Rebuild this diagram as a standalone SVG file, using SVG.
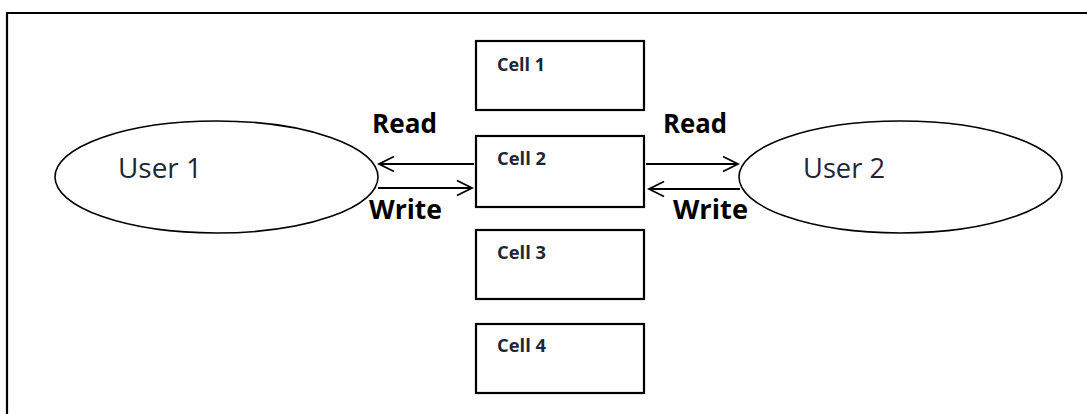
<svg xmlns="http://www.w3.org/2000/svg" width="1087" height="414" viewBox="0 0 1087 414">
<style>
.frame{fill:none;stroke:#000;stroke-width:2.2}
.cell{fill:#fff;stroke:#000;stroke-width:2.2}
.user{fill:#fff;stroke:#000;stroke-width:1.6}
.ct{font-family:"Open Sans","Liberation Sans",sans-serif;font-weight:bold;font-size:17px;fill:#1c2636}
.ut{font-family:"Open Sans","Liberation Sans",sans-serif;font-size:27px;fill:#1c2636}
.lbl{font-family:"Open Sans","Liberation Sans",sans-serif;font-weight:bold;font-size:26px;fill:#000}
.conn{stroke:#000;stroke-width:1.8;fill:none;marker-end:url(#arr)}
</style>
<defs>
<marker id="arr" markerUnits="userSpaceOnUse" markerWidth="20" markerHeight="20" refX="16" refY="9" orient="auto">
<path d="M1,1.5 L16,9 L1,16.5" fill="none" stroke="#000" stroke-width="1.8"/>
</marker>
</defs>
<rect width="1087" height="414" fill="#fff"/>
<path class="frame" d="M1090,13 H7 V420"/>
<g id="user1">
<ellipse class="user" cx="216.5" cy="177" rx="161.5" ry="56"/>
<text class="ut" x="118" y="178" textLength="84" lengthAdjust="spacingAndGlyphs">User 1</text>
</g>
<g id="user2">
<ellipse class="user" cx="900.5" cy="177" rx="161.5" ry="56"/>
<text class="ut" x="803" y="178" textLength="82" lengthAdjust="spacingAndGlyphs">User 2</text>
</g>
<g id="cell1">
<rect class="cell" x="476" y="41" width="168" height="69"/>
<text class="ct" x="497" y="71" textLength="48" lengthAdjust="spacingAndGlyphs">Cell 1</text>
</g>
<g id="cell2">
<rect class="cell" x="476" y="136" width="168" height="71"/>
<text class="ct" x="497" y="165" textLength="49" lengthAdjust="spacingAndGlyphs">Cell 2</text>
</g>
<g id="cell3">
<rect class="cell" x="476" y="230" width="168" height="69"/>
<text class="ct" x="497" y="259" textLength="49" lengthAdjust="spacingAndGlyphs">Cell 3</text>
</g>
<g id="cell4">
<rect class="cell" x="476" y="324" width="168" height="69"/>
<text class="ct" x="497" y="352" textLength="49" lengthAdjust="spacingAndGlyphs">Cell 4</text>
</g>
<g id="connectors">
<line class="conn" x1="474" y1="164" x2="379" y2="164"/>
<line class="conn" x1="378" y1="188" x2="472" y2="188"/>
<line class="conn" x1="646" y1="164" x2="738" y2="164"/>
<line class="conn" x1="740" y1="189" x2="649" y2="189"/>
<text class="lbl" x="372" y="133" textLength="65" lengthAdjust="spacingAndGlyphs">Read</text>
<text class="lbl" x="369" y="219" textLength="73" lengthAdjust="spacingAndGlyphs">Write</text>
<text class="lbl" x="663" y="133" textLength="64" lengthAdjust="spacingAndGlyphs">Read</text>
<text class="lbl" x="673" y="219" textLength="75" lengthAdjust="spacingAndGlyphs">Write</text>
</g>
</svg>
